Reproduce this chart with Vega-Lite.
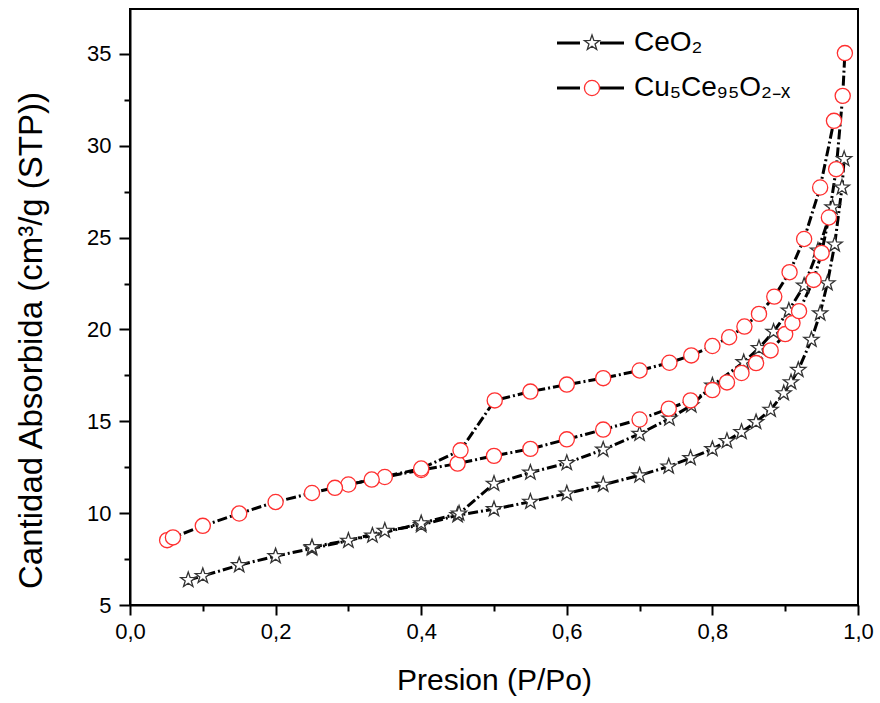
{
  "$schema": "https://vega.github.io/schema/vega-lite/v6.json",
  "width": 728,
  "height": 596,
  "autosize": {"type": "none"},
  "padding": {"left": 130, "top": 9, "right": 22, "bottom": 98},
  "background": "white",
  "config": {
    "font": "Liberation Sans",
    "view": {"stroke": "black", "strokeWidth": 2},
    "axis": {"grid": false, "domainColor": "black", "domainWidth": 2, "tickColor": "black", "tickWidth": 2, "labelColor": "black", "titleColor": "black", "titleFontWeight": "normal"}
  },
  "data": {"values": [
    {"s": "CeO₂", "b": "ads", "p": 0.08, "v": 6.36},
    {"s": "CeO₂", "b": "ads", "p": 0.10, "v": 6.58},
    {"s": "CeO₂", "b": "ads", "p": 0.15, "v": 7.17},
    {"s": "CeO₂", "b": "ads", "p": 0.20, "v": 7.66},
    {"s": "CeO₂", "b": "ads", "p": 0.25, "v": 8.08},
    {"s": "CeO₂", "b": "ads", "p": 0.30, "v": 8.50},
    {"s": "CeO₂", "b": "ads", "p": 0.35, "v": 9.04},
    {"s": "CeO₂", "b": "ads", "p": 0.40, "v": 9.35},
    {"s": "CeO₂", "b": "ads", "p": 0.45, "v": 9.89},
    {"s": "CeO₂", "b": "ads", "p": 0.50, "v": 10.22},
    {"s": "CeO₂", "b": "ads", "p": 0.55, "v": 10.62},
    {"s": "CeO₂", "b": "ads", "p": 0.60, "v": 11.07},
    {"s": "CeO₂", "b": "ads", "p": 0.65, "v": 11.55},
    {"s": "CeO₂", "b": "ads", "p": 0.70, "v": 12.06},
    {"s": "CeO₂", "b": "ads", "p": 0.74, "v": 12.54},
    {"s": "CeO₂", "b": "ads", "p": 0.77, "v": 13.0},
    {"s": "CeO₂", "b": "ads", "p": 0.80, "v": 13.49},
    {"s": "CeO₂", "b": "ads", "p": 0.82, "v": 13.93},
    {"s": "CeO₂", "b": "ads", "p": 0.84, "v": 14.42},
    {"s": "CeO₂", "b": "ads", "p": 0.86, "v": 14.96},
    {"s": "CeO₂", "b": "ads", "p": 0.88, "v": 15.63},
    {"s": "CeO₂", "b": "ads", "p": 0.898, "v": 16.53},
    {"s": "CeO₂", "b": "ads", "p": 0.908, "v": 17.13},
    {"s": "CeO₂", "b": "ads", "p": 0.918, "v": 17.8},
    {"s": "CeO₂", "b": "ads", "p": 0.936, "v": 19.44},
    {"s": "CeO₂", "b": "ads", "p": 0.948, "v": 20.88},
    {"s": "CeO₂", "b": "ads", "p": 0.958, "v": 22.52},
    {"s": "CeO₂", "b": "ads", "p": 0.968, "v": 24.63},
    {"s": "CeO₂", "b": "ads", "p": 0.978, "v": 27.73},
    {"s": "CeO₂", "b": "ads", "p": 0.981, "v": 29.28},
    {"s": "CeO₂", "b": "des", "p": 0.965, "v": 26.65},
    {"s": "CeO₂", "b": "des", "p": 0.945, "v": 24.3},
    {"s": "CeO₂", "b": "des", "p": 0.926, "v": 22.39},
    {"s": "CeO₂", "b": "des", "p": 0.905, "v": 21.03},
    {"s": "CeO₂", "b": "des", "p": 0.884, "v": 19.88},
    {"s": "CeO₂", "b": "des", "p": 0.864, "v": 18.99},
    {"s": "CeO₂", "b": "des", "p": 0.843, "v": 18.22},
    {"s": "CeO₂", "b": "des", "p": 0.80, "v": 16.95},
    {"s": "CeO₂", "b": "des", "p": 0.771, "v": 15.87},
    {"s": "CeO₂", "b": "des", "p": 0.741, "v": 15.15},
    {"s": "CeO₂", "b": "des", "p": 0.70, "v": 14.32},
    {"s": "CeO₂", "b": "des", "p": 0.65, "v": 13.46},
    {"s": "CeO₂", "b": "des", "p": 0.60, "v": 12.73},
    {"s": "CeO₂", "b": "des", "p": 0.55, "v": 12.21},
    {"s": "CeO₂", "b": "des", "p": 0.50, "v": 11.6},
    {"s": "CeO₂", "b": "des", "p": 0.452, "v": 9.98},
    {"s": "CeO₂", "b": "des", "p": 0.40, "v": 9.45},
    {"s": "CeO₂", "b": "des", "p": 0.333, "v": 8.78},
    {"s": "CeO₂", "b": "des", "p": 0.25, "v": 8.15},
    {"s": "Cu₅Ce₉₅O₂₋ₓ", "b": "ads", "p": 0.051, "v": 8.53},
    {"s": "Cu₅Ce₉₅O₂₋ₓ", "b": "ads", "p": 0.059, "v": 8.68},
    {"s": "Cu₅Ce₉₅O₂₋ₓ", "b": "ads", "p": 0.10, "v": 9.31},
    {"s": "Cu₅Ce₉₅O₂₋ₓ", "b": "ads", "p": 0.15, "v": 9.98},
    {"s": "Cu₅Ce₉₅O₂₋ₓ", "b": "ads", "p": 0.20, "v": 10.61},
    {"s": "Cu₅Ce₉₅O₂₋ₓ", "b": "ads", "p": 0.25, "v": 11.1},
    {"s": "Cu₅Ce₉₅O₂₋ₓ", "b": "ads", "p": 0.30, "v": 11.56},
    {"s": "Cu₅Ce₉₅O₂₋ₓ", "b": "ads", "p": 0.35, "v": 11.97},
    {"s": "Cu₅Ce₉₅O₂₋ₓ", "b": "ads", "p": 0.40, "v": 12.35},
    {"s": "Cu₅Ce₉₅O₂₋ₓ", "b": "ads", "p": 0.45, "v": 12.7},
    {"s": "Cu₅Ce₉₅O₂₋ₓ", "b": "ads", "p": 0.50, "v": 13.12},
    {"s": "Cu₅Ce₉₅O₂₋ₓ", "b": "ads", "p": 0.55, "v": 13.5},
    {"s": "Cu₅Ce₉₅O₂₋ₓ", "b": "ads", "p": 0.60, "v": 14.02},
    {"s": "Cu₅Ce₉₅O₂₋ₓ", "b": "ads", "p": 0.65, "v": 14.55},
    {"s": "Cu₅Ce₉₅O₂₋ₓ", "b": "ads", "p": 0.70, "v": 15.1},
    {"s": "Cu₅Ce₉₅O₂₋ₓ", "b": "ads", "p": 0.74, "v": 15.69},
    {"s": "Cu₅Ce₉₅O₂₋ₓ", "b": "ads", "p": 0.77, "v": 16.14},
    {"s": "Cu₅Ce₉₅O₂₋ₓ", "b": "ads", "p": 0.80, "v": 16.7},
    {"s": "Cu₅Ce₉₅O₂₋ₓ", "b": "ads", "p": 0.82, "v": 17.12},
    {"s": "Cu₅Ce₉₅O₂₋ₓ", "b": "ads", "p": 0.84, "v": 17.63},
    {"s": "Cu₅Ce₉₅O₂₋ₓ", "b": "ads", "p": 0.86, "v": 18.17},
    {"s": "Cu₅Ce₉₅O₂₋ₓ", "b": "ads", "p": 0.88, "v": 18.86},
    {"s": "Cu₅Ce₉₅O₂₋ₓ", "b": "ads", "p": 0.90, "v": 19.75},
    {"s": "Cu₅Ce₉₅O₂₋ₓ", "b": "ads", "p": 0.91, "v": 20.35},
    {"s": "Cu₅Ce₉₅O₂₋ₓ", "b": "ads", "p": 0.919, "v": 21.0},
    {"s": "Cu₅Ce₉₅O₂₋ₓ", "b": "ads", "p": 0.939, "v": 22.7},
    {"s": "Cu₅Ce₉₅O₂₋ₓ", "b": "ads", "p": 0.950, "v": 24.17},
    {"s": "Cu₅Ce₉₅O₂₋ₓ", "b": "ads", "p": 0.960, "v": 26.1},
    {"s": "Cu₅Ce₉₅O₂₋ₓ", "b": "ads", "p": 0.970, "v": 28.73},
    {"s": "Cu₅Ce₉₅O₂₋ₓ", "b": "ads", "p": 0.979, "v": 32.72},
    {"s": "Cu₅Ce₉₅O₂₋ₓ", "b": "ads", "p": 0.982, "v": 35.05},
    {"s": "Cu₅Ce₉₅O₂₋ₓ", "b": "des", "p": 0.967, "v": 31.36},
    {"s": "Cu₅Ce₉₅O₂₋ₓ", "b": "des", "p": 0.948, "v": 27.73},
    {"s": "Cu₅Ce₉₅O₂₋ₓ", "b": "des", "p": 0.926, "v": 24.93},
    {"s": "Cu₅Ce₉₅O₂₋ₓ", "b": "des", "p": 0.906, "v": 23.12},
    {"s": "Cu₅Ce₉₅O₂₋ₓ", "b": "des", "p": 0.885, "v": 21.79},
    {"s": "Cu₅Ce₉₅O₂₋ₓ", "b": "des", "p": 0.864, "v": 20.85},
    {"s": "Cu₅Ce₉₅O₂₋ₓ", "b": "des", "p": 0.844, "v": 20.16},
    {"s": "Cu₅Ce₉₅O₂₋ₓ", "b": "des", "p": 0.823, "v": 19.58},
    {"s": "Cu₅Ce₉₅O₂₋ₓ", "b": "des", "p": 0.80, "v": 19.1},
    {"s": "Cu₅Ce₉₅O₂₋ₓ", "b": "des", "p": 0.771, "v": 18.59},
    {"s": "Cu₅Ce₉₅O₂₋ₓ", "b": "des", "p": 0.741, "v": 18.19},
    {"s": "Cu₅Ce₉₅O₂₋ₓ", "b": "des", "p": 0.70, "v": 17.77},
    {"s": "Cu₅Ce₉₅O₂₋ₓ", "b": "des", "p": 0.65, "v": 17.35},
    {"s": "Cu₅Ce₉₅O₂₋ₓ", "b": "des", "p": 0.60, "v": 17.0},
    {"s": "Cu₅Ce₉₅O₂₋ₓ", "b": "des", "p": 0.55, "v": 16.62},
    {"s": "Cu₅Ce₉₅O₂₋ₓ", "b": "des", "p": 0.501, "v": 16.14},
    {"s": "Cu₅Ce₉₅O₂₋ₓ", "b": "des", "p": 0.454, "v": 13.42},
    {"s": "Cu₅Ce₉₅O₂₋ₓ", "b": "des", "p": 0.40, "v": 12.43},
    {"s": "Cu₅Ce₉₅O₂₋ₓ", "b": "des", "p": 0.332, "v": 11.83},
    {"s": "Cu₅Ce₉₅O₂₋ₓ", "b": "des", "p": 0.2815, "v": 11.38}
  ]},
  "layer": [
    {
      "mark": {"type": "line", "color": "black", "strokeWidth": 3},
      "encoding": {
        "x": {
          "field": "p", "type": "quantitative",
          "scale": {"domain": [0, 1], "nice": false, "zero": false},
          "axis": {
            "title": "Presion (P/Po)", "orient": "bottom",
            "values": [0, 0.2, 0.4, 0.6, 0.8, 1.0],
            "labelExpr": "replace(format(datum.value, '.1f'), '.', ',')",
            "tickSize": 10,
            "labelFontSize": 22, "labelPadding": 6, "labelFlush": false,
            "titleFontSize": 30, "titlePadding": 23
          }
        },
        "y": {
          "field": "v", "type": "quantitative",
          "scale": {"domain": [5, 37.45], "nice": false, "zero": false},
          "axis": {
            "title": "Cantidad Absorbida (cm³/g (STP))", "orient": "left",
            "values": [5, 10, 15, 20, 25, 30, 35],
            "tickSize": 11,
            "labelFontSize": 22, "labelPadding": 8, "labelFlush": false,
            "titleFontSize": 33, "titlePadding": 38, "titleY": 331
          }
        },
        "strokeDash": {
          "field": "b", "type": "nominal",
          "scale": {"range": [[10, 3, 2, 3], [10, 3, 2, 3]]},
          "legend": null
        },
        "opacity": {
          "field": "s", "type": "nominal",
          "scale": {"range": [1, 1]},
          "legend": {
            "title": null, "orient": "none", "legendX": 446, "legendY": 20,
            "symbolType": "M-3.3,0L-1.0,0M1.0,0L3.4,0", "symbolSize": 400,
            "symbolStrokeWidth": 3, "symbolStrokeColor": "black",
            "labelFontSize": 28, "labelOffset": 30, "rowPadding": 17, "padding": 0,
            "encode": {"symbols": {"update": {"strokeDash": {"value": [100, 0]}}}}
          }
        }
      }
    },
    {
      "mark": {"type": "point", "filled": false, "fill": "white", "fillOpacity": 1, "opacity": 1, "strokeWidth": 1.3, "size": 230},
      "encoding": {
        "x": {"field": "p", "type": "quantitative",
          "axis": {"orient": "bottom", "values": [0.1, 0.3, 0.5, 0.7, 0.9], "labels": false, "domain": false, "tickSize": 6, "title": null}},
        "y": {"field": "v", "type": "quantitative",
          "axis": {"orient": "left", "values": [7.5, 12.5, 17.5, 22.5, 27.5, 32.5], "labels": false, "domain": false, "tickSize": 6, "title": null}},
        "shape": {
          "field": "s", "type": "nominal",
          "scale": {"domain": ["CeO₂", "Cu₅Ce₉₅O₂₋ₓ"], "range": ["M0,-1.05L0.247,-0.34L1,-0.324L0.4,0.13L0.617,0.85L0,0.42L-0.617,0.85L-0.4,0.13L-1,-0.324L-0.247,-0.34Z", "circle"]},
          "legend": {
            "title": null, "orient": "none", "legendX": 448, "legendY": 20,
            "symbolSize": 230, "symbolStrokeWidth": 1.3, "symbolFillColor": "white",
            "labelFontSize": 28, "labelOpacity": 0, "rowPadding": 17, "padding": 0
          }
        },
        "stroke": {
          "field": "s", "type": "nominal",
          "scale": {"domain": ["CeO₂", "Cu₅Ce₉₅O₂₋ₓ"], "range": ["#333333", "#ff3030"]},
          "legend": {
            "title": null, "orient": "none", "legendX": 448, "legendY": 20,
            "symbolSize": 230, "symbolStrokeWidth": 1.3, "symbolFillColor": "white",
            "labelFontSize": 28, "labelOpacity": 0, "rowPadding": 17, "padding": 0
          }
        }
      }
    }
  ],
  "resolve": {"axis": {"x": "independent", "y": "independent"}}
}
